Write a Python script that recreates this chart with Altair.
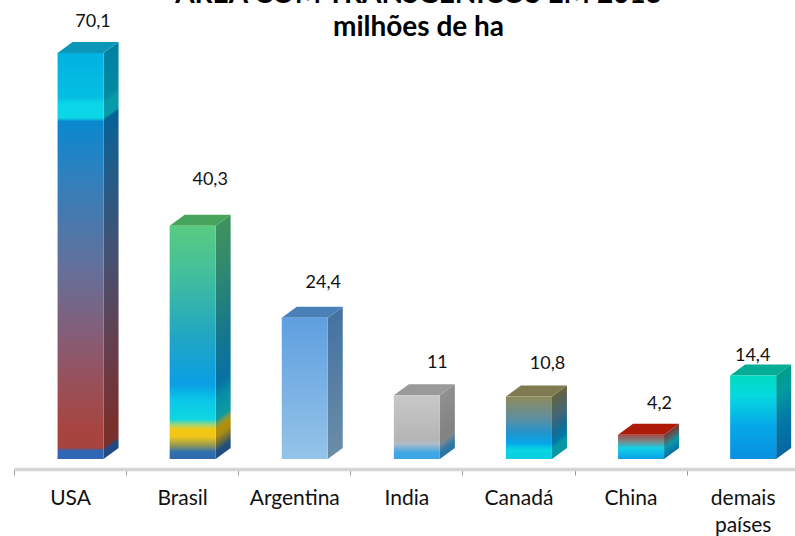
import altair as alt
import pandas as pd

# Chart values
categories = ["USA", "Brasil", "Argentina", "India", "Canadá", "China", "demais\npaíses"]
values = [70.1, 40.3, 24.4, 11, 10.8, 4.2, 14.4]
title_lines = ["ÁREA COM TRANSGÊNICOS EM 2013", "milhões de ha"]

# Colour stops of each front face, top to bottom
front_stops = [
    [(0, "#00b2e0"), (0.11, "#05bfe2"), (0.125, "#0bd6e8"), (0.16, "#0bd6e8"), (0.168, "#0a88d0"),
     (0.3, "#2f80bd"), (0.53, "#64709b"), (0.72, "#8a5a70"), (0.93, "#a8443f"), (0.972, "#a8443f"),
     (0.98, "#2f66b5"), (1, "#2f66b5")],
    [(0, "#58cb80"), (0.19, "#45c09a"), (0.49, "#1fa5c5"), (0.68, "#0a9fe5"), (0.75, "#0ac8e8"),
     (0.83, "#10d6e0"), (0.855, "#a9d470"), (0.875, "#f5c80f"), (0.905, "#f0c518"), (0.94, "#9a9a50"),
     (0.97, "#2f6fb0"), (1, "#2e68b0")],
    [(0, "#5f9fe0"), (1, "#94c4e8")],
    [(0, "#c8c8c8"), (0.7, "#b5b5b5"), (0.76, "#b0bcc8"), (0.9, "#3fa7e5"), (1, "#3ba5e5")],
    [(0, "#8f8a5a"), (0.35, "#5f8fa0"), (0.6, "#1f95d0"), (0.75, "#05a8ea"), (0.85, "#08d5e5"), (1, "#0bcfe0")],
    [(0, "#a84a45"), (0.3, "#6f8f90"), (0.55, "#12cfe8"), (0.7, "#0fc0e8"), (1, "#0a9fe5")],
    [(0, "#00dcc0"), (0.25, "#05d8e0"), (0.6, "#05a8e8"), (1, "#0a90e0")],
]
top_colors = ["#0c97b8", "#46a45c", "#4a80b8", "#9a9a9a", "#7f7a50", "#ad1a08", "#06ad96"]
label_dx = [23, 28, 29, 31, 29, 29, 10]
label_dy = [-31, -46, -35, -32, -32, -31, -20]

# Plot geometry, in pixels
STEP = 112.1
AXIS_LEFT = 14
BASELINE = 459
PX_PER_UNIT = 5.79
FACE_W = 46
FACE_SHIFT = 10.5
DEPTH_X = 15
DEPTH_Y = 11

x_range = [AXIS_LEFT, AXIS_LEFT + STEP * len(categories)]
band_scale = alt.Scale(domain=categories, range=x_range, paddingInner=0, paddingOuter=0)
pos_scale = alt.Scale(domain=[-0.5, len(categories) - 0.5], range=x_range, nice=False, zero=False)
y_scale = alt.Scale(domain=[0, BASELINE / PX_PER_UNIT], range=[BASELINE, 0], nice=False)


def darken(color, k=0.72):
    rgb = [int(color[i:i + 2], 16) for i in (1, 3, 5)]
    return "#" + "".join(f"{int(c * k):02x}" for c in rgb)


def gradient(stops, x1=0.0, y1=0.0, x2=0.0, y2=1.0):
    return alt.LinearGradient(
        gradient="linear", x1=x1, y1=y1, x2=x2, y2=y2,
        stops=[alt.GradientStop(offset=o, color=c) for o, c in stops],
    )


def x_enc():
    return alt.X("x:Q", scale=pos_scale, axis=None)


def y_enc():
    return alt.Y("y:Q", scale=y_scale, axis=None, stack=None)


def y2_enc():
    return alt.Y2("y2:Q")


layers = []

# Transparent layer that carries the category axis
axis_df = pd.DataFrame({"cat": categories, "v": values})
layers.append(
    alt.Chart(axis_df).mark_bar(opacity=0).encode(
        x=alt.X(
            "cat:N", scale=band_scale, sort=categories, title=None,
            axis=alt.Axis(
                orient="bottom", labelAngle=0, tickBand="extent",
                labelExpr="split(datum.label, '\\n')", labelFont="Lato", labelFontSize=21,
                labelColor="#111111", labelPadding=23, labelLineHeight=27, labelBaseline="middle",
                domainColor="#d6d6d6", domainWidth=3.5, tickColor="#9a9a9a", tickSize=6, tickWidth=1,
                grid=False,
            ),
        ),
        y=alt.Y("v:Q", scale=y_scale, axis=None, stack=None),
    )
)

dx_u = DEPTH_X / STEP
dy_u = DEPTH_Y / PX_PER_UNIT
half_u = FACE_W / 2 / STEP
shift_u = FACE_SHIFT / STEP

for i, v in enumerate(values):
    left = i + shift_u - half_u
    right = i + shift_u + half_u

    # Side face: the gradient vector is tilted so that bands run along the slope
    side = pd.DataFrame({"x": [right, right + dx_u], "y": [v, v + dy_u], "y2": [0, dy_u]})
    total_px = v * PX_PER_UNIT + DEPTH_Y
    k = DEPTH_Y / total_px
    s = (1 - k) / (k * k + 1)
    side_fill = gradient([(o, darken(c)) for o, c in front_stops[i]], x1=0, y1=k, x2=s * k, y2=k + s)
    layers.append(alt.Chart(side).mark_area(color=side_fill).encode(x=x_enc(), y=y_enc(), y2=y2_enc()))

    # Top face
    top = pd.DataFrame({
        "x": [left, left + dx_u, right, right + dx_u],
        "y": [v, v + dy_u, v + dy_u, v + dy_u],
        "y2": [v, v, v, v + dy_u],
    })
    layers.append(alt.Chart(top).mark_area(color=top_colors[i]).encode(x=x_enc(), y=y_enc(), y2=y2_enc()))

    # Front face
    front = pd.DataFrame({"x": [left], "x2": [right], "y": [v], "y2": [0]})
    layers.append(
        alt.Chart(front).mark_bar(color=gradient(front_stops[i])).encode(
            x=x_enc(), x2=alt.X2("x2:Q"), y=y_enc(), y2=y2_enc()
        )
    )

    # Value label
    label = pd.DataFrame({"x": [i], "y": [v], "t": [str(v).replace(".", ",")]})
    layers.append(
        alt.Chart(label).mark_text(
            font="Lato", fontSize=18, color="#111111", baseline="middle", align="center",
            dx=label_dx[i], dy=label_dy[i],
        ).encode(x=x_enc(), y=y_enc(), text="t:N")
    )

chart = (
    alt.layer(*layers)
    .resolve_scale(x="independent")
    .properties(
        width=795,
        height=469,
        padding={"left": 0, "top": 0, "right": 0, "bottom": 67},
        autosize=alt.AutoSizeParams(type="none"),
        background="white",
        title=alt.TitleParams(
            text=title_lines, font="Lato", fontSize=28, fontWeight="bold", color="#000000",
            anchor="middle", frame="group", dx=21, dy=42, offset=0, lineHeight=33,
        ),
    )
    .configure_view(stroke=None)
)

chart.save("out.html", embed_options={"renderer": "svg", "actions": False})
